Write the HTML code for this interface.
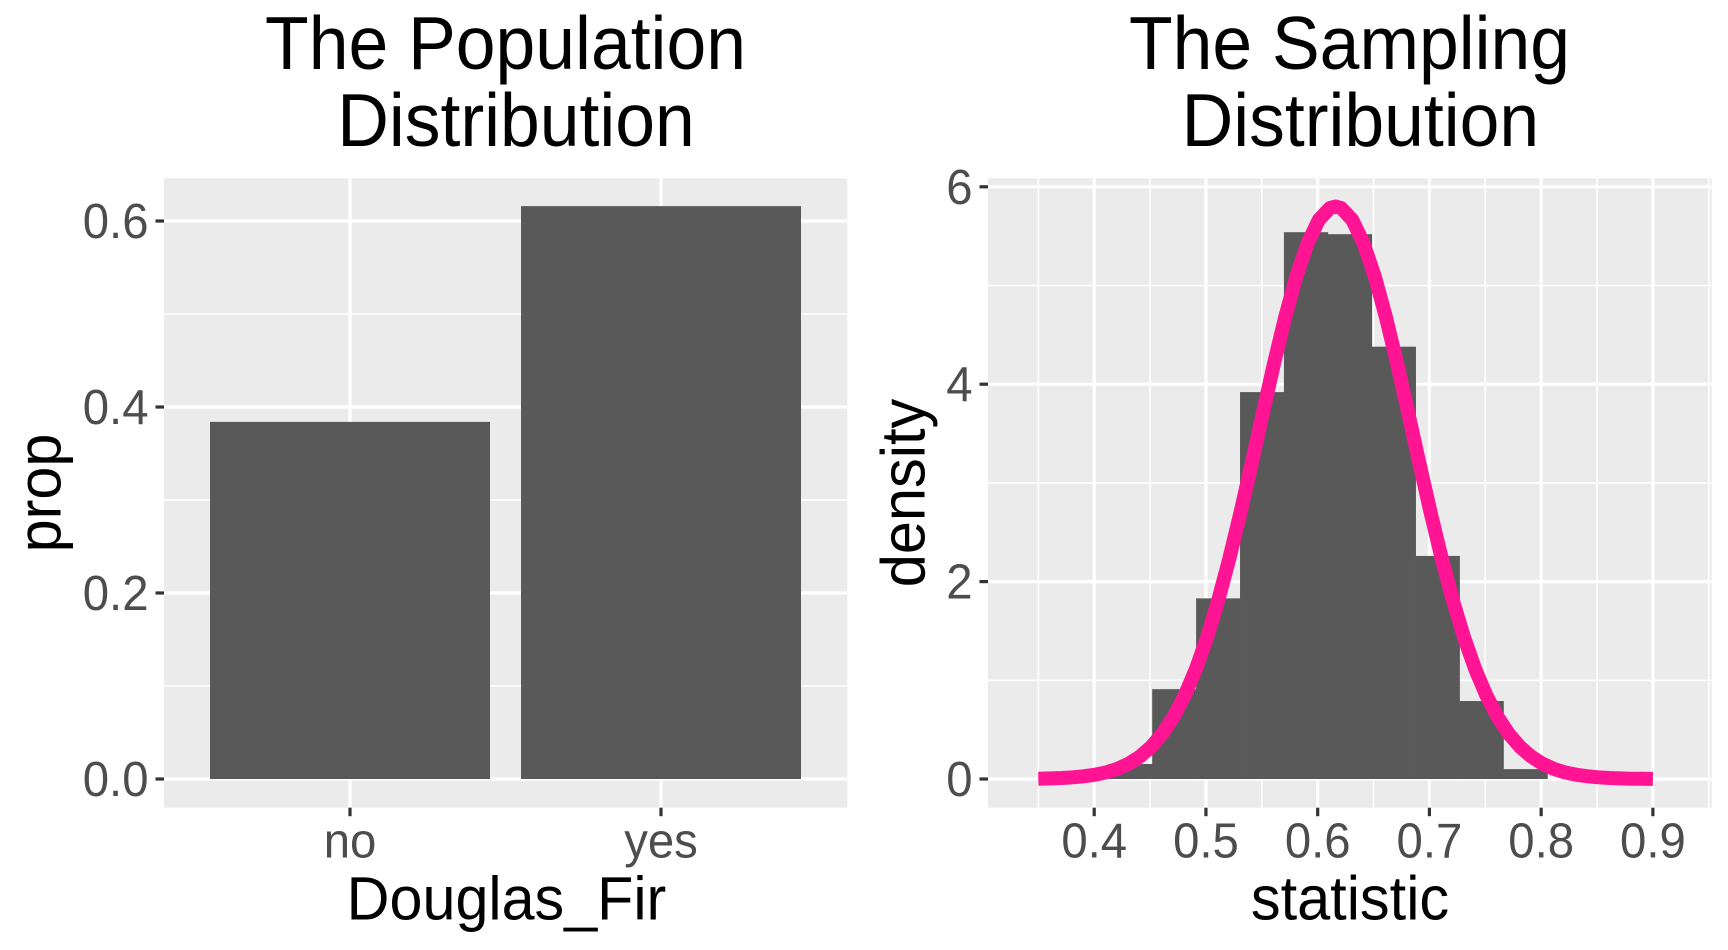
<!DOCTYPE html>
<html lang="en">
<head>
<meta charset="utf-8">
<title>The Population and Sampling Distributions</title>
<style>
html,body{margin:0;padding:0;background:#fff;width:1728px;height:950px;overflow:hidden}
svg{display:block;font-family:"Liberation Sans",Arial,sans-serif}
</style>
</head>
<body>
<svg id="chart" xmlns="http://www.w3.org/2000/svg" width="1728" height="950" viewBox="0 0 1728 950">
  <rect x="0" y="0" width="1728" height="950" fill="#ffffff"/>
  <g id="left-plot">
    <text transform="translate(505.5 69) scale(1 1.05)" font-size="71.5" text-anchor="middle" fill="#000">The Population</text>
    <text transform="translate(516 146) scale(1 1.05)" font-size="71.5" text-anchor="middle" fill="#000">Distribution</text>
    <text transform="translate(506.5 919.7) scale(1 1.04)" font-size="59.3" text-anchor="middle" fill="#000">Douglas_Fir</text>
    <text transform="translate(60.5 493) rotate(-90) scale(1 1.04)" font-size="59.3" text-anchor="middle" fill="#000">prop</text>
  </g>
  <g id="right-plot">
    <text transform="translate(1349.5 69) scale(1 1.05)" font-size="71.5" text-anchor="middle" fill="#000">The Sampling</text>
    <text transform="translate(1360.4 146) scale(1 1.05)" font-size="71.5" text-anchor="middle" fill="#000">Distribution</text>
    <text transform="translate(1350 919.7) scale(1 1.04)" font-size="59.5" text-anchor="middle" fill="#000">statistic</text>
    <text transform="translate(924.5 493) rotate(-90) scale(1 1.04)" font-size="59.5" text-anchor="middle" fill="#000">density</text>
  </g>
</svg>
<script>
// Left chart data
var popCategories = ['no', 'yes'];
var popProps = [0.384, 0.616];
var popYTicks = [0, 0.2, 0.4, 0.6];
var popYTickLabels = ['0.0', '0.2', '0.4', '0.6'];
var popYMinor = [0.1, 0.3, 0.5];

// Right chart data: histogram
var histBinLefts = [0.4126, 0.4519, 0.4912, 0.5305, 0.5698, 0.6091, 0.6484, 0.6877, 0.7270, 0.7663];
var histBinWidth = [0.0393];
var histDensity = [0.152, 0.91, 1.83, 3.92, 5.54, 5.52, 4.38, 2.26, 0.79, 0.10];

// Right chart data: overlaid curve
var curveX = [0.35, 0.361, 0.371, 0.381, 0.391, 0.401, 0.411, 0.421, 0.431, 0.441, 0.451, 0.461, 0.471, 0.481, 0.491, 0.501, 0.511, 0.521, 0.531, 0.541, 0.551, 0.561, 0.571, 0.581, 0.591, 0.601, 0.611, 0.616, 0.621, 0.631, 0.641, 0.651, 0.661, 0.671, 0.681, 0.691, 0.701, 0.711, 0.721, 0.731, 0.741, 0.751, 0.761, 0.771, 0.781, 0.791, 0.801, 0.811, 0.821, 0.831, 0.841, 0.851, 0.861, 0.871, 0.881, 0.891, 0.90];
var curveY = [0.003, 0.006, 0.010, 0.017, 0.028, 0.044, 0.068, 0.104, 0.156, 0.228, 0.327, 0.458, 0.629, 0.846, 1.113, 1.435, 1.810, 2.236, 2.704, 3.201, 3.712, 4.214, 4.683, 5.096, 5.429, 5.664, 5.785, 5.80, 5.785, 5.664, 5.429, 5.096, 4.683, 4.214, 3.712, 3.201, 2.704, 2.236, 1.810, 1.435, 1.113, 0.846, 0.629, 0.458, 0.327, 0.228, 0.156, 0.104, 0.068, 0.044, 0.028, 0.017, 0.010, 0.006, 0.003, 0.002, 0.001];

// Right chart axes
var samXTicks = [0.4, 0.5, 0.6, 0.7, 0.8, 0.9];
var samXTickLabels = ['0.4', '0.5', '0.6', '0.7', '0.8', '0.9'];
var samXMinor = [0.35, 0.45, 0.55, 0.65, 0.75, 0.85, 0.95];
var samYTicks = [0, 2, 4, 6];
var samYTickLabels = ['0', '2', '4', '6'];
var samYMinor = [1, 3, 5];

var NS = 'http://www.w3.org/2000/svg';
var PANEL_TOP = 178.3, PANEL_BOTTOM = 807.7;
var TICK_FONT = 47.3;

function make(parent, tag, attrs) {
  var el = document.createElementNS(NS, tag);
  for (var k in attrs) { el.setAttribute(k, attrs[k]); }
  parent.appendChild(el);
  return el;
}

function tickTransform(x, y) { return 'translate(' + x + ' ' + y + ') scale(1 1.03)'; }

// Scales
function popXBand(i) { return 350 + 311 * i; }
function popY(v) { return 779 - 930 * v; }
function samX(v) { return 1094.2 + (v - 0.4) * 1117.4; }
function samY(v) { return 779 - 98.7 * v; }

function drawPopulation() {
  var g = document.getElementById('left-plot');
  var L = 164, R = 847.3;
  var panel = make(g, 'rect', {x: L, y: PANEL_TOP, width: R - L, height: PANEL_BOTTOM - PANEL_TOP, fill: '#EBEBEB'});
  
  
  popYMinor.forEach(function (v) {
    var line = make(g, 'line', {x1: L, x2: R, y1: popY(v), y2: popY(v), stroke: '#fff', 'stroke-width': 1.6});
    
    
  });
  popYTicks.forEach(function (v, i) {
    var line = make(g, 'line', {x1: L, x2: R, y1: popY(v), y2: popY(v), stroke: '#fff', 'stroke-width': 3.2});
    
    
    var tick = make(g, 'line', {x1: L - 8.5, x2: L, y1: popY(v), y2: popY(v), stroke: '#333333', 'stroke-width': 3.2});
    
    
    var label = make(g, 'text', {transform: tickTransform(148.5, popY(v) + 17), 'font-size': TICK_FONT, 'text-anchor': 'end', fill: '#4D4D4D'});
    
    
    label.textContent = popYTickLabels[i];
  });
  popCategories.forEach(function (c, i) {
    var x = popXBand(i);
    var line = make(g, 'line', {x1: x, x2: x, y1: PANEL_TOP, y2: PANEL_BOTTOM, stroke: '#fff', 'stroke-width': 3.2});
    
    
    var tick = make(g, 'line', {x1: x, x2: x, y1: PANEL_BOTTOM, y2: PANEL_BOTTOM + 8.5, stroke: '#333333', 'stroke-width': 3.2});
    
    
    var label = make(g, 'text', {transform: tickTransform(x, 857.6), 'font-size': TICK_FONT, 'text-anchor': 'middle', fill: '#4D4D4D'});
    
    
    label.textContent = c;
  });
  popCategories.forEach(function (c, i) {
    var x = popXBand(i) - 140;
    var bar = make(g, 'rect', {x: x, y: popY(popProps[i]), width: 280, height: popY(0) - popY(popProps[i]), fill: '#595959'});
    
    
  });
}

function drawSampling() {
  var g = document.getElementById('right-plot');
  var L = 988, R = 1711.7;
  var panel = make(g, 'rect', {x: L, y: PANEL_TOP, width: R - L, height: PANEL_BOTTOM - PANEL_TOP, fill: '#EBEBEB'});
  
  
  samYMinor.forEach(function (v) {
    var line = make(g, 'line', {x1: L, x2: R, y1: samY(v), y2: samY(v), stroke: '#fff', 'stroke-width': 1.6});
    
    
  });
  samXMinor.forEach(function (v) {
    var line = make(g, 'line', {x1: samX(v), x2: samX(v), y1: PANEL_TOP, y2: PANEL_BOTTOM, stroke: '#fff', 'stroke-width': 1.6});
    
    
  });
  samYTicks.forEach(function (v, i) {
    var line = make(g, 'line', {x1: L, x2: R, y1: samY(v), y2: samY(v), stroke: '#fff', 'stroke-width': 3.2});
    
    
    var tick = make(g, 'line', {x1: L - 8.5, x2: L, y1: samY(v), y2: samY(v), stroke: '#333333', 'stroke-width': 3.2});
    
    
    var label = make(g, 'text', {transform: tickTransform(972.5, samY(v) + 17), 'font-size': TICK_FONT, 'text-anchor': 'end', fill: '#4D4D4D'});
    
    
    label.textContent = samYTickLabels[i];
  });
  samXTicks.forEach(function (v, i) {
    var line = make(g, 'line', {x1: samX(v), x2: samX(v), y1: PANEL_TOP, y2: PANEL_BOTTOM, stroke: '#fff', 'stroke-width': 3.2});
    
    
    var tick = make(g, 'line', {x1: samX(v), x2: samX(v), y1: PANEL_BOTTOM, y2: PANEL_BOTTOM + 8.5, stroke: '#333333', 'stroke-width': 3.2});
    
    
    var label = make(g, 'text', {transform: tickTransform(samX(v), 857.6), 'font-size': TICK_FONT, 'text-anchor': 'middle', fill: '#4D4D4D'});
    
    
    label.textContent = samXTickLabels[i];
  });
  histDensity.forEach(function (d, i) {
    var x0 = samX(histBinLefts[i]);
    var x1 = samX(histBinLefts[i] + histBinWidth[0]);
    var bar = make(g, 'rect', {x: x0, y: samY(d), width: x1 - x0 + 0.3, height: samY(0) - samY(d), fill: '#595959'});
    
    
  });
  var pts = curveX.map(function (x, i) { return samX(x).toFixed(2) + ',' + samY(curveY[i]).toFixed(2); }).join(' ');
  var curve = make(g, 'polyline', {points: pts, fill: 'none', stroke: '#FF1493', 'stroke-width': 14, 'stroke-linejoin': 'round', 'stroke-linecap': 'butt'});
  
  
}

drawPopulation();
drawSampling();
</script>
</body>
</html>
